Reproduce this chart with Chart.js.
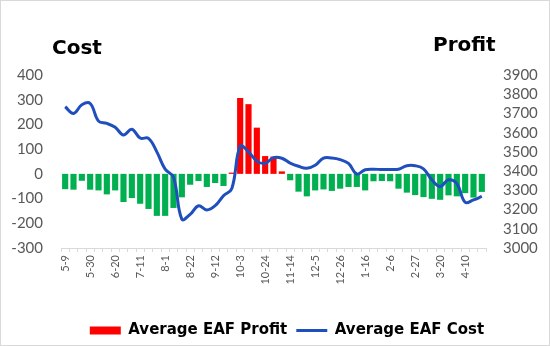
<!DOCTYPE html>
<html>
<head>
<meta charset="utf-8">
<script src="https://cdn.jsdelivr.net/npm/chart.js@4.4.1/dist/chart.umd.min.js"></script>
<style>
    html, body { margin: 0; padding: 0; background: #fff; }
    #wrap { position: relative; width: 550px; height: 346px; }
</style>
</head>
<body>
<div id="wrap"><canvas id="eafChart"></canvas></div>
<script>
// ---- Weekly data ----
const weeks = [
    '5-9', '5-16', '5-23', '5-30', '6-6', '6-13', '6-20', '6-27', '7-4', '7-11',
    '7-18', '7-25', '8-1', '8-8', '8-15', '8-22', '8-29', '9-5', '9-12', '9-19',
    '9-26', '10-3', '10-10', '10-17', '10-24', '10-31', '11-7', '11-14', '11-21', '11-28',
    '12-5', '12-12', '12-19', '12-26', '1-2', '1-9', '1-16', '1-23', '1-30', '2-6',
    '2-13', '2-20', '2-27', '3-6', '3-13', '3-20', '3-27', '4-3', '4-10', '4-17', '4-24'
];

const avgProfit = [
    -62, -64, -28, -64, -67, -83, -67, -114, -98, -121,
    -142, -170, -170, -138, -95, -44, -29, -53, -37, -49,
    5, 307, 282, 187, 72, 70, 10, -26, -72, -91,
    -67, -63, -69, -60, -53, -53, -67, -30, -29, -30,
    -60, -76, -86, -94, -101, -105, -87, -91, -78, -96, -73
];

const avgCost = [
    3735, 3700, 3745, 3752, 3660, 3648, 3628, 3588, 3618, 3572,
    3570, 3500, 3410, 3368, 3150, 3175, 3220, 3198, 3220, 3272,
    3310, 3530, 3500, 3452, 3440, 3470, 3467, 3442, 3425, 3415,
    3430, 3468, 3468, 3460, 3440, 3385, 3407, 3410, 3408, 3408,
    3410, 3428, 3428, 3412, 3355, 3320, 3355, 3335, 3238, 3250, 3268
];

const leftTicks = { min: -300, max: 400, step: 100 };
const rightTicks = { min: 3000, max: 3900, step: 100 };

const RED = '#ff0000';
const GREEN = '#00b050';
const BLUE = '#1f4fbd';
const TICK_GREY = '#595959';

// Axis captions above the two value axes, white fill + thin frame,
// and a small nudge of the legend row to the right / down
const captions = {
    id: 'captions',
    afterLayout(chart) {
        const lg = chart.legend;
        lg.left = 12;
        lg.right = chart.width + 12;
        lg.top += 2;
        lg.bottom += 2;
    },
    beforeDraw(chart) {
        const ctx = chart.ctx;
        ctx.save();
        ctx.fillStyle = '#fff';
        ctx.fillRect(0, 0, chart.width, chart.height);
        ctx.strokeStyle = '#d9d9d9';
        ctx.lineWidth = 1;
        ctx.strokeRect(0.5, 0.5, chart.width - 1, chart.height - 1);
        ctx.restore();
    },
    afterDraw(chart) {
        const ctx = chart.ctx;
        ctx.save();
        ctx.fillStyle = '#000';
        ctx.font = "bold 20px 'DejaVu Sans'";
        ctx.textBaseline = 'alphabetic';
        ctx.textAlign = 'left';
        ctx.fillText('Cost', 52, 54);
        ctx.fillText('Profit', 433, 51);
        ctx.restore();
    }
};

new Chart(document.getElementById('eafChart'), {
    type: 'bar',
    data: {
        labels: weeks,
        datasets: [
            {
                type: 'bar',
                label: 'Average EAF Profit',
                data: avgProfit,
                yAxisID: 'y',
                order: 1,
                backgroundColor: ctx => (ctx.raw < 0 ? GREEN : RED),
                borderWidth: 0,
                barPercentage: 0.74,
                categoryPercentage: 1.0,
            },
            {
                type: 'line',
                label: 'Average EAF Cost',
                data: avgCost,
                yAxisID: 'y1',
                order: 0,
                borderColor: BLUE,
                backgroundColor: BLUE,
                borderWidth: 3,
                pointRadius: 0,
                tension: 0.4,
                fill: false,
            }
        ]
    },
    options: {
        responsive: true,
        maintainAspectRatio: false,
        animation: false,
        layout: { padding: { top: 75, left: 0, right: 0, bottom: 0 } },
        scales: {
            x: {
                offset: true,
                grid: {
                    offset: true,
                    drawOnChartArea: false,
                    drawTicks: true,
                    tickLength: 4,
                    color: '#d9d9d9',
                },
                border: { display: true, color: '#d9d9d9' },
                ticks: {
                    autoSkip: false,
                    maxRotation: 90,
                    minRotation: 90,
                    padding: 3,
                    color: TICK_GREY,
                    font: { family: 'Lato', size: 11 },
                    callback: function (val, i) {
                        return i % 3 === 0 ? this.getLabelForValue(val) : '';
                    }
                },
                afterFit: scale => { scale.height = 64; }
            },
            y: {
                position: 'left',
                min: leftTicks.min,
                max: leftTicks.max,
                grid: { display: false, drawTicks: false },
                border: { display: false },
                ticks: {
                    stepSize: leftTicks.step,
                    autoSkip: false,
                    padding: 18,
                    color: TICK_GREY,
                    font: { family: 'Lato', size: 15 },
                    callback: v => String(v)
                },
                afterFit: scale => { scale.width = 61; }
            },
            y1: {
                position: 'right',
                min: rightTicks.min,
                max: rightTicks.max,
                grid: { display: false, drawTicks: false },
                border: { display: false },
                ticks: {
                    stepSize: rightTicks.step,
                    autoSkip: false,
                    padding: 17,
                    color: TICK_GREY,
                    font: { family: 'Lato', size: 15 },
                    callback: v => String(v)
                },
                afterFit: scale => { scale.width = 64; }
            }
        },
        plugins: {
            tooltip: { enabled: false },
            legend: {
                display: true,
                position: 'bottom',
                labels: {
                    usePointStyle: true,
                    pointStyleWidth: 31,
                    boxHeight: 8,
                    padding: 9,
                    color: '#000',
                    font: { family: 'DejaVu Sans', size: 15, weight: 'bold' },
                    sort: (a, b) => a.datasetIndex - b.datasetIndex,
                    generateLabels(chart) {
                        const items = Chart.defaults.plugins.legend.labels.generateLabels(chart);
                        items.forEach(it => {
                            if (it.datasetIndex === 0) {
                                it.fillStyle = RED;
                                it.strokeStyle = RED;
                                it.lineWidth = 0;
                                it.pointStyle = 'rect';
                            } else {
                                it.strokeStyle = BLUE;
                                it.lineWidth = 3;
                                it.pointStyle = 'line';
                            }
                        });
                        return items;
                    }
                }
            }
        }
    },
    plugins: [captions]
});
</script>
</body>
</html>
